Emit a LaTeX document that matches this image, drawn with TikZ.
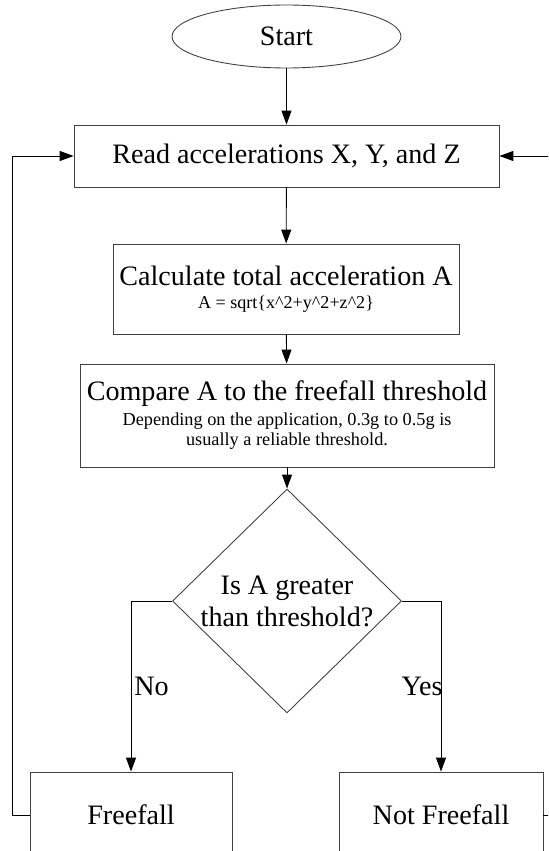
\documentclass[tikz,border=0pt]{standalone}
\usepackage{fontspec}
\setmainfont{Liberation Serif}
\usetikzlibrary{arrows.meta,shapes.geometric}
\definecolor{chartline}{RGB}{64,64,64}
\definecolor{chartarrow}{RGB}{0,0,0}
\tikzset{
  blk/.style    ={draw=chartline, line width=0.5pt, rectangle, align=center, inner sep=1pt, font=\fontsize{16}{18.2}\selectfont},
  blkterm/.style={draw=chartline, line width=0.5pt, ellipse, inner sep=0pt, font=\fontsize{16}{18.2}\selectfont},
  blkdec/.style ={draw=chartline, line width=0.5pt, diamond, aspect=1, align=center, inner sep=0pt, font=\fontsize{16}{18.2}\selectfont},
  flow/.style   ={draw=chartarrow, line width=0.5pt, -{Triangle[length=0.28cm,width=0.2cm]}},
  lbl/.style    ={inner sep=0pt, font=\fontsize{16}{18.2}\selectfont},
}
\begin{document}
\begin{tikzpicture}[x=0.02cm,y=-0.02cm]
  \clip (0,0) rectangle (548,851);
  \node[blkterm, minimum width=4.58cm, minimum height=1.26cm] (start) at (286.5,36.5) {Start};
  \node[blk, minimum width=8.5cm, minimum height=1.24cm] (read) at (286.5,156) {Read accelerations X, Y, and Z};
  \node[blk, minimum width=6.92cm, minimum height=1.8cm] (calc) at (286,289)
    {Calculate total acceleration A\\[-5.1pt]
     \fontsize{10.3}{11.5}\selectfont A = sqrt\{x\textasciicircum 2+y\textasciicircum 2+z\textasciicircum 2\}};
  \node[blk, minimum width=8.28cm, minimum height=2.06cm] (cmp) at (287,415.5)
    {Compare A to the freefall threshold\\[-4pt]
     \fontsize{10.4}{11.5}\selectfont Depending on the application, 0.3g to 0.5g is\\[-6.8pt]
     \fontsize{10.4}{11.5}\selectfont usually a reliable threshold.};
  \node[blkdec, minimum width=4.58cm, minimum height=4.48cm] (test) at (287,601) {Is A greater\\than threshold?};
  \node[blk, minimum width=4.04cm, minimum height=1.72cm] (ff) at (131,815) {Freefall};
  \node[blk, minimum width=4.08cm, minimum height=1.72cm] (nf) at (441,815) {Not Freefall};
  \node[lbl] (no) at (151.5,686) {No};
  \node[lbl] (yes) at (422,686) {Yes};
  \draw[flow] (start) -- (read);
  \draw[flow] (read) -- (calc);
  \draw[flow] (calc) -- (cmp);
  \draw[flow] (cmp) -- (test);
  \draw[flow] (test.west) -| (ff.north);
  \draw[flow] (test.east) -| (nf.north);
  \draw[flow] (ff.west) -- ++(-17,0) |- (read.west);
  \draw[flow] (nf.east) -- ++(30,0) |- (read.east);
\end{tikzpicture}
\end{document}
